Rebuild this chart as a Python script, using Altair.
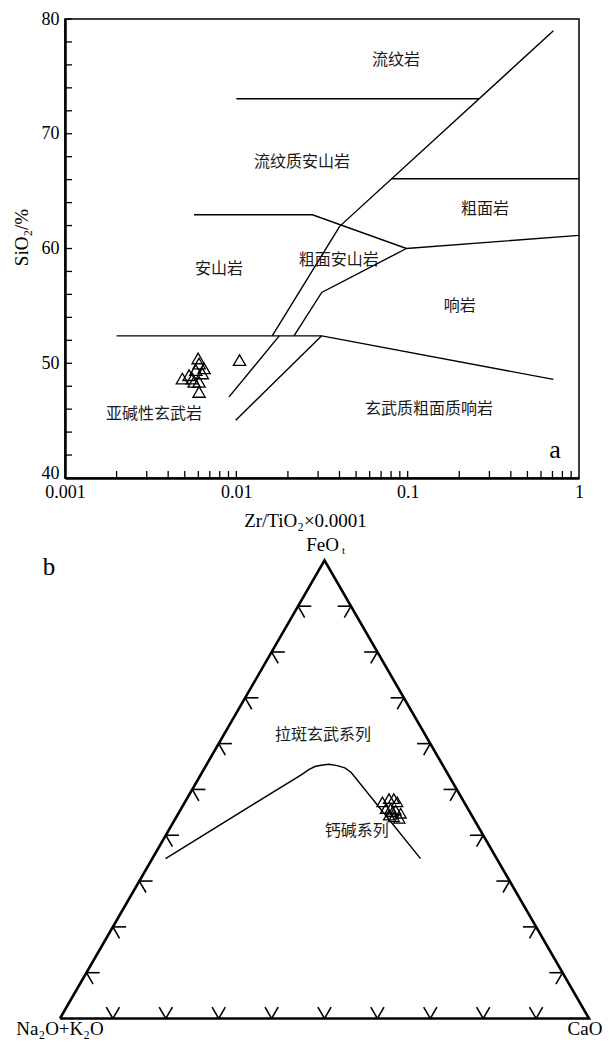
import math
import altair as alt
import pandas as pd

SERIF = "Liberation Serif"
CJK = "Noto Sans CJK SC"

# ---------------- Panel a: Zr/TiO2 vs SiO2 ----------------
line_seg = [1, 1, 2, 2, 2, 3, 3, 4, 4, 4, 4, 5, 5, 5, 6, 6, 6, 7, 7, 8, 8]
line_x = [0.01, 0.261, 0.0162, 0.0401, 0.709, 0.0807, 1.0, 0.00566, 0.0278, 0.0983, 1.0,
          0.0983, 0.0315, 0.0217, 0.002, 0.0315, 0.709, 0.00992, 0.0315, 0.00907, 0.0178]
line_y = [73.05, 73.05, 52.39, 61.93, 78.98, 66.08, 66.08, 62.94, 62.94, 60.0, 61.14,
          60.0, 56.17, 52.39, 52.39, 52.39, 48.59, 45.04, 52.39, 47.07, 52.39]

rock_names = ["流纹岩", "流纹质安山岩", "粗面岩", "安山岩", "粗面安山岩", "响岩",
              "亚碱性玄武岩", "玄武质粗面质响岩"]
rock_x = [0.0856, 0.0242, 0.283, 0.00793, 0.0396, 0.2017, 0.00331, 0.1334]
rock_y = [76.4, 67.5, 63.4, 58.2, 59.0, 55.0, 45.6, 46.05]

zr_tio2 = [0.00598, 0.00606, 0.00484, 0.00530, 0.00633, 0.00580, 0.00606, 0.00567,
           0.00606, 0.00648, 0.00554, 0.01044]
sio2 = [50.42, 49.98, 48.67, 48.96, 49.11, 49.40, 48.38, 48.38, 47.50, 49.55, 48.67, 50.27]

y_tick_values = [40, 42, 44, 46, 48, 50, 52, 54, 56, 58, 60, 62, 64, 66, 68, 70, 72, 74, 76, 78, 80]
x_tick_values = [0.002, 0.003, 0.004, 0.005, 0.006, 0.007, 0.008, 0.009, 0.01,
                 0.02, 0.03, 0.04, 0.05, 0.06, 0.07, 0.08, 0.09, 0.1,
                 0.2, 0.3, 0.4, 0.5, 0.6, 0.7, 0.8, 0.9]
x_label_values = [0.001, 0.01, 0.1, 1]
y_label_values = [40, 50, 60, 70, 80]

panel_a_label = ["a"]
panel_a_label_x = [0.725]
panel_a_label_y = [42.48]

# ---------------- Panel b: ternary ----------------
tick_values = [10, 20, 30, 40, 50, 60, 70, 80, 90]
curve_feo = [34.9, 53.3, 54.4, 55.0, 55.3, 55.5, 55.2, 54.7, 53.7, 34.9]
curve_cao = [2.5, 19.1, 19.9, 20.7, 21.7, 23.1, 24.8, 26.5, 28.2, 50.7]

samp_feo = [47.3, 48.0, 48.0, 47.3, 45.8, 45.8, 45.5, 44.8, 44.4, 44.0, 43.7, 45.1]
samp_cao = [37.3, 38.2, 39.1, 40.1, 38.7, 39.6, 40.7, 42.0, 40.0, 41.1, 42.3, 40.3]

field_names = ["拉斑玄武系列", "钙碱系列"]
field_feo = [61.8, 41.0]
field_cao = [18.8, 35.6]

vertex_names = ["Na₂O+K₂O", "CaO", "FeO"]
vertex_feo = [0, 0, 100]
vertex_cao = [0, 100, 0]

panel_b_label = ["b"]
panel_b_label_x = [-0.021]
panel_b_label_y = [0.853]

# ---------------- build panel a ----------------
W_A, H_A = 514, 459
xs = alt.Scale(type="log", domain=[0.001, 1], nice=False)
ys = alt.Scale(domain=[40, 80], nice=False, zero=False)

lines_df = pd.DataFrame({"seg": line_seg, "x": line_x, "y": line_y})
lines_df["ord"] = range(len(lines_df))

x_axis = alt.Axis(values=x_label_values, format="~g", ticks=False, tickSize=0, labelFlush=False,
                  labelFont=SERIF, labelFontSize=18, labelPadding=5, labelColor="black",
                  title="Zr/TiO₂×0.0001", titleFont=SERIF, titleFontSize=19,
                  titleFontWeight="normal", titlePadding=10, titleColor="black", titleX=240,
                  domainColor="black", domainWidth=2.5, grid=False)
y_axis = alt.Axis(values=y_label_values, ticks=False, tickSize=0,
                  labelFont=SERIF, labelFontSize=18, labelPadding=6, labelColor="black",
                  labelOffset=alt.condition("datum.value == 40", alt.value(-5), alt.value(0)),
                  title="SiO₂/%", titleFont=SERIF, titleFontSize=19,
                  titleFontWeight="normal", titlePadding=10, titleColor="black", titleY=218,
                  domainColor="black", domainWidth=2.5, grid=False)

bounds = alt.Chart(lines_df).mark_line(color="black", strokeWidth=1.4).encode(
    x=alt.X("x:Q", scale=xs, axis=x_axis),
    y=alt.Y("y:Q", scale=ys, axis=y_axis),
    detail="seg:N",
    order="ord:Q",
)

ytk = alt.Chart(pd.DataFrame({"v": y_tick_values})).mark_rule(color="black", strokeWidth=1.3).encode(
    y=alt.Y("v:Q", scale=ys), x=alt.value(0), x2=alt.value(7))
xtk = alt.Chart(pd.DataFrame({"v": x_tick_values})).mark_rule(color="black", strokeWidth=1.3).encode(
    x=alt.X("v:Q", scale=xs), y=alt.value(H_A), y2=alt.value(H_A - 7))

pts_a = alt.Chart(pd.DataFrame({"x": zr_tio2, "y": sio2})).mark_point(
    shape="triangle-up", size=150, filled=False, color="black", strokeWidth=1.3, opacity=1
).encode(x=alt.X("x:Q", scale=xs), y=alt.Y("y:Q", scale=ys))

txt_a = alt.Chart(pd.DataFrame({"t": rock_names, "x": rock_x, "y": rock_y})).mark_text(
    font=CJK, fontSize=16, color="#1a1a1a"
).encode(x=alt.X("x:Q", scale=xs), y=alt.Y("y:Q", scale=ys), text="t:N")

lab_a = alt.Chart(pd.DataFrame({"t": panel_a_label, "x": panel_a_label_x, "y": panel_a_label_y})).mark_text(
    font=SERIF, fontSize=26, color="black"
).encode(x=alt.X("x:Q", scale=xs), y=alt.Y("y:Q", scale=ys), text="t:N")

panel_a = alt.layer(bounds, ytk, xtk, pts_a, txt_a, lab_a).properties(
    width=W_A, height=H_A, view=alt.ViewBackground(stroke="black", strokeWidth=1.5))

# ---------------- build panel b ----------------
SQ = math.sqrt(3) / 2


def tern(feo, cao):
    f = feo / 100.0
    c = cao / 100.0
    return c + f / 2.0, f * SQ


W_B, H_B = 536, 501
PX = 529.0
X0 = (66 - 61) / PX
Y_TOP = (1020 - 532.5) / PX
bxs = alt.Scale(domain=[X0, X0 + W_B / PX], nice=False, zero=False)
bys = alt.Scale(domain=[Y_TOP - H_B / PX, Y_TOP], nice=False, zero=False)

# outline
ov = [(0, 0), (0, 100), (100, 0), (0, 0)]
out_df = pd.DataFrame([dict(zip(("x", "y"), tern(f, c)), ord=i) for i, (f, c) in enumerate(ov)])
outline = alt.Chart(out_df).mark_line(color="black", strokeWidth=2.6, strokeJoin="miter").encode(
    x=alt.X("x:Q", scale=bxs, axis=None), y=alt.Y("y:Q", scale=bys, axis=None), order="ord:Q")

# tick stubs
D = 2.5
rows = []
for t in tick_values:
    stubs = [
        ((0, t), (D, t)), ((0, t), (D, t - D)),                      # bottom edge "V"
        ((t, 0), (t, D)), ((t, 0), (t - D, D)),                      # left edge
        ((t, 100 - t), (t, 100 - t - D)), ((t, 100 - t), (t - D, 100 - t)),  # right edge
    ]
    for (f1, c1), (f2, c2) in stubs:
        x1, y1 = tern(f1, c1)
        x2, y2 = tern(f2, c2)
        rows.append({"x": x1, "y": y1, "x2": x2, "y2": y2})
ticks_b = alt.Chart(pd.DataFrame(rows)).mark_rule(color="black", strokeWidth=1.6).encode(
    x=alt.X("x:Q", scale=bxs), y=alt.Y("y:Q", scale=bys), x2="x2:Q", y2="y2:Q")

cur = [tern(f, c) for f, c in zip(curve_feo, curve_cao)]
cur_df = pd.DataFrame({"x": [p[0] for p in cur], "y": [p[1] for p in cur], "ord": range(len(cur))})
curve = alt.Chart(cur_df).mark_line(color="black", strokeWidth=1.5).encode(
    x=alt.X("x:Q", scale=bxs), y=alt.Y("y:Q", scale=bys), order="ord:Q")

sp = [tern(f, c) for f, c in zip(samp_feo, samp_cao)]
pts_b = alt.Chart(pd.DataFrame({"x": [p[0] for p in sp], "y": [p[1] for p in sp]})).mark_point(
    shape="triangle-up", size=120, filled=False, color="black", strokeWidth=1.3, opacity=1
).encode(x=alt.X("x:Q", scale=bxs), y=alt.Y("y:Q", scale=bys))

fp = [tern(f, c) for f, c in zip(field_feo, field_cao)]
txt_b = alt.Chart(pd.DataFrame({"t": field_names, "x": [p[0] for p in fp], "y": [p[1] for p in fp]})).mark_text(
    font=CJK, fontSize=16, color="#1a1a1a"
).encode(x=alt.X("x:Q", scale=bxs), y=alt.Y("y:Q", scale=bys), text="t:N")

vp = [tern(f, c) for f, c in zip(vertex_feo, vertex_cao)]
vdf = pd.DataFrame({"t": vertex_names, "x": [p[0] for p in vp], "y": [p[1] for p in vp]})
vert_left = alt.Chart(vdf.iloc[:1]).mark_text(font=SERIF, fontSize=19, color="black", dy=10).encode(
    x=alt.X("x:Q", scale=bxs), y=alt.Y("y:Q", scale=bys), text="t:N")
vert_right = alt.Chart(vdf.iloc[1:2]).mark_text(font=SERIF, fontSize=19, color="black", dy=10, dx=-4).encode(
    x=alt.X("x:Q", scale=bxs), y=alt.Y("y:Q", scale=bys), text="t:N")
vert_top = alt.Chart(vdf.iloc[2:]).mark_text(font=SERIF, fontSize=19, color="black", dy=-15, dx=-2).encode(
    x=alt.X("x:Q", scale=bxs), y=alt.Y("y:Q", scale=bys), text="t:N")
vert_sub = alt.Chart(pd.DataFrame({"t": ["t"], "x": [vp[2][0]], "y": [vp[2][1]]})).mark_text(
    font=SERIF, fontSize=11, color="black", dx=19, dy=-9).encode(
    x=alt.X("x:Q", scale=bxs), y=alt.Y("y:Q", scale=bys), text="t:N")

lab_b = alt.Chart(pd.DataFrame({"t": panel_b_label, "x": panel_b_label_x, "y": panel_b_label_y})).mark_text(
    font=SERIF, fontSize=25, color="black"
).encode(x=alt.X("x:Q", scale=bxs), y=alt.Y("y:Q", scale=bys), text="t:N")

panel_b = alt.layer(outline, ticks_b, curve, pts_b, txt_b, vert_left, vert_right, vert_top, vert_sub,
                    lab_b).properties(
    width=W_B, height=H_B, view=alt.ViewBackground(stroke="transparent", strokeWidth=0))

chart = alt.vconcat(panel_a, panel_b, spacing=0).properties(
    padding={"left": 3, "top": 1, "right": 0, "bottom": 0}, background="white")

chart.save("out.html", embed_options={"renderer": "svg", "actions": False})
